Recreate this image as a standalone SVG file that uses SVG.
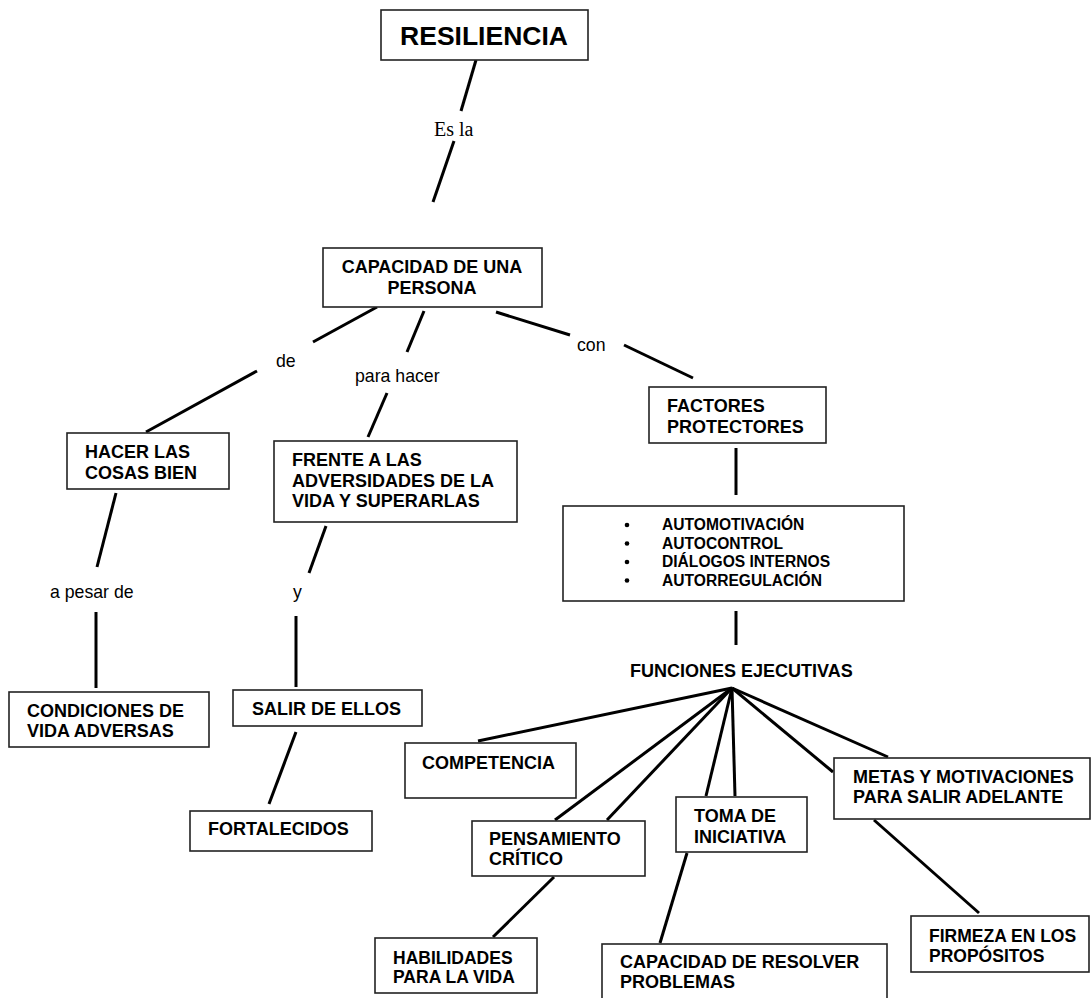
<svg xmlns="http://www.w3.org/2000/svg" width="1092" height="998" viewBox="0 0 1092 998">
<style>
.box{fill:#fff;stroke:#222;stroke-width:1.6}
.t{font-family:"Liberation Sans",Arial,sans-serif;font-weight:bold;font-size:18px;fill:#000}
.lbl{font-family:"Liberation Sans",Arial,sans-serif;font-size:17.7px;fill:#000}
.ln{stroke:#000;stroke-width:3;fill:none;stroke-linecap:butt}
</style>
<rect width="1092" height="998" fill="#fff"/>
<g id="connectors">
<line class="ln" x1="476" y1="60" x2="461" y2="111"/>
<line class="ln" x1="454" y1="141" x2="433" y2="202"/>
<line class="ln" x1="377" y1="307" x2="313" y2="342"/>
<line class="ln" x1="257" y1="371" x2="146" y2="432"/>
<line class="ln" x1="424" y1="311" x2="407" y2="352"/>
<line class="ln" x1="387" y1="393" x2="368" y2="437"/>
<line class="ln" x1="496" y1="312" x2="570" y2="335"/>
<line class="ln" x1="624" y1="345" x2="693" y2="378"/>
<line class="ln" x1="736" y1="448" x2="736" y2="495"/>
<line class="ln" x1="736" y1="611" x2="736" y2="645"/>
<line class="ln" x1="732" y1="688" x2="478" y2="741"/>
<line class="ln" x1="732" y1="688" x2="555" y2="820"/>
<line class="ln" x1="732" y1="688" x2="607" y2="820"/>
<line class="ln" x1="732" y1="688" x2="706" y2="796"/>
<line class="ln" x1="732" y1="688" x2="735" y2="796"/>
<line class="ln" x1="732" y1="688" x2="833" y2="772"/>
<line class="ln" x1="732" y1="688" x2="888" y2="757"/>
<line class="ln" x1="116" y1="493" x2="97" y2="567"/>
<line class="ln" x1="96" y1="612" x2="96" y2="688"/>
<line class="ln" x1="326" y1="526" x2="309" y2="573"/>
<line class="ln" x1="296" y1="616" x2="296" y2="687"/>
<line class="ln" x1="296" y1="732" x2="269" y2="804"/>
<line class="ln" x1="554" y1="877" x2="493" y2="937"/>
<line class="ln" x1="687" y1="853" x2="660" y2="943"/>
<line class="ln" x1="874" y1="820" x2="979" y2="913"/>
<text class="lbl" x="434" y="136" style="font-family:'Liberation Serif','Times New Roman',serif;font-size:20px">Es la</text>
<text class="lbl" x="276" y="367">de</text>
<text class="lbl" x="355" y="382">para hacer</text>
<text class="lbl" x="577" y="351">con</text>
<text class="lbl" x="50" y="598">a pesar de</text>
<text class="lbl" x="293" y="598">y</text>
</g>
<g id="resiliencia">
<rect class="box" x="381" y="10" width="207" height="50"/>
<text class="t" x="484" y="45" text-anchor="middle" style="font-size:26.5px">RESILIENCIA</text>
</g>
<g id="capacidad">
<rect class="box" x="323" y="248" width="219" height="59"/>
<text class="t" x="432" y="273" text-anchor="middle">CAPACIDAD DE UNA</text>
<text class="t" x="432" y="294" text-anchor="middle">PERSONA</text>
</g>
<g id="hacer">
<rect class="box" x="67" y="433" width="162" height="56"/>
<text class="t" x="85" y="458">HACER LAS</text>
<text class="t" x="85" y="479">COSAS BIEN</text>
</g>
<g id="frente">
<rect class="box" x="274" y="441" width="243" height="81"/>
<text class="t" x="292" y="466">FRENTE A LAS</text>
<text class="t" x="292" y="487">ADVERSIDADES DE LA</text>
<text class="t" x="292" y="507">VIDA Y SUPERARLAS</text>
</g>
<g id="factores">
<rect class="box" x="649" y="387" width="177" height="56"/>
<text class="t" x="667" y="412">FACTORES</text>
<text class="t" x="667" y="433">PROTECTORES</text>
</g>
<g id="lista">
<rect class="box" x="563" y="506" width="341" height="95"/>
<g style="fill:#000">
<circle cx="627" cy="525" r="2.3"/>
<circle cx="627" cy="543.5" r="2.3"/>
<circle cx="627" cy="562" r="2.3"/>
<circle cx="627" cy="580.5" r="2.3"/>
</g>
<text class="t" x="662" y="530" style="font-size:15.6px">AUTOMOTIVACIÓN</text>
<text class="t" x="662" y="548.5" style="font-size:15.6px">AUTOCONTROL</text>
<text class="t" x="662" y="567" style="font-size:15.6px">DIÁLOGOS INTERNOS</text>
<text class="t" x="662" y="585.5" style="font-size:15.6px">AUTORREGULACIÓN</text>
</g>
<g id="funciones">
<text class="t" x="630" y="677">FUNCIONES EJECUTIVAS</text>
</g>
<g id="condiciones">
<rect class="box" x="9" y="692" width="200" height="55"/>
<text class="t" x="27" y="717">CONDICIONES DE</text>
<text class="t" x="27" y="737">VIDA ADVERSAS</text>
</g>
<g id="salir">
<rect class="box" x="233" y="690" width="189" height="36"/>
<text class="t" x="252" y="715">SALIR DE ELLOS</text>
</g>
<g id="fortalecidos">
<rect class="box" x="190" y="811" width="182" height="40"/>
<text class="t" x="208" y="835">FORTALECIDOS</text>
</g>
<g id="competencia">
<rect class="box" x="405" y="743" width="171" height="55"/>
<text class="t" x="422" y="769">COMPETENCIA</text>
</g>
<g id="pensamiento">
<rect class="box" x="472" y="821" width="173" height="55"/>
<text class="t" x="489" y="845">PENSAMIENTO</text>
<text class="t" x="489" y="865">CRÍTICO</text>
</g>
<g id="toma">
<rect class="box" x="676" y="797" width="131" height="55"/>
<text class="t" x="694" y="822">TOMA DE</text>
<text class="t" x="694" y="843">INICIATIVA</text>
</g>
<g id="metas">
<rect class="box" x="834" y="758" width="256" height="61"/>
<text class="t" x="853" y="783">METAS Y MOTIVACIONES</text>
<text class="t" x="853" y="803">PARA SALIR ADELANTE</text>
</g>
<g id="habilidades">
<rect class="box" x="375" y="938" width="162" height="55"/>
<text class="t" x="393" y="964" style="font-size:17.5px">HABILIDADES</text>
<text class="t" x="393" y="983" style="font-size:17.5px">PARA LA VIDA</text>
</g>
<g id="resolver">
<rect class="box" x="602" y="944" width="285" height="70"/>
<text class="t" x="620" y="968">CAPACIDAD DE RESOLVER</text>
<text class="t" x="620" y="988">PROBLEMAS</text>
</g>
<g id="firmeza">
<rect class="box" x="911" y="916" width="178" height="56"/>
<text class="t" x="929" y="942" style="font-size:17.5px">FIRMEZA EN LOS</text>
<text class="t" x="929" y="962" style="font-size:17.5px">PROPÓSITOS</text>
</g>
</svg>
